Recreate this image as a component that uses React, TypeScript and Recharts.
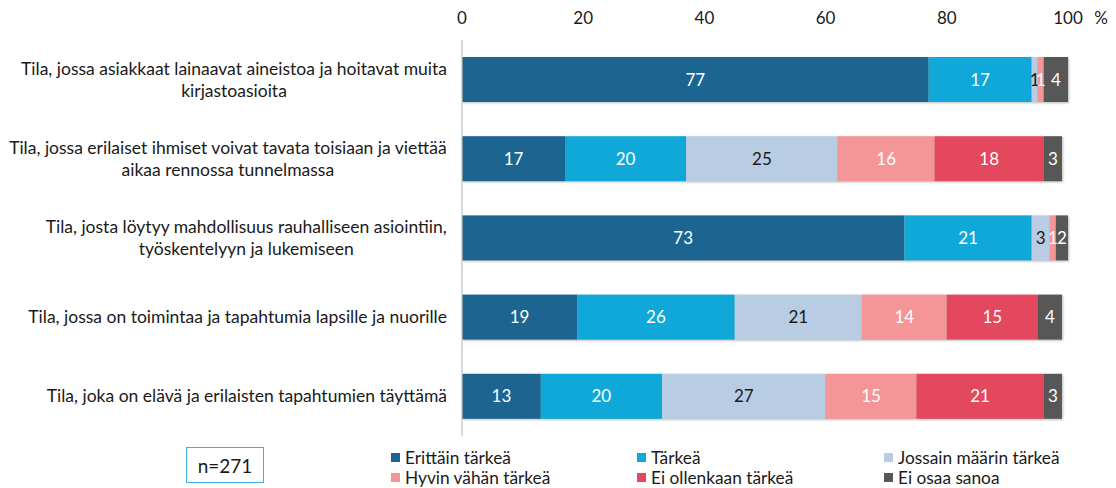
import React from "react";
import { BarChart, Bar, XAxis, YAxis, LabelList } from "recharts";

const categoryLines: string[][] = [
  ["Tila, jossa asiakkaat lainaavat aineistoa ja hoitavat muita", "kirjastoasioita"],
  ["Tila, jossa erilaiset ihmiset voivat tavata toisiaan ja viettää", "aikaa rennossa tunnelmassa"],
  ["Tila, josta löytyy mahdollisuus rauhalliseen asiointiin,", "työskentelyyn ja lukemiseen"],
  ["Tila, jossa on toimintaa ja tapahtumia lapsille ja nuorille"],
  ["Tila, joka on elävä ja erilaisten tapahtumien täyttämä"],
];

const erittainTarkea = [77, 17, 73, 19, 13];
const tarkea = [17, 20, 21, 26, 20];
const jossainMaarin = [1, 25, 3, 21, 27];
const hyvinVahan = [1, 16, 1, 14, 15];
const eiOllenkaan = [0, 18, 0, 15, 21];
const eiOsaa = [4, 3, 2, 4, 3];

const xTicks = [0, 20, 40, 60, 80, 100];

const seriesNames = [
  "Erittäin tärkeä",
  "Tärkeä",
  "Jossain määrin tärkeä",
  "Hyvin vähän tärkeä",
  "Ei ollenkaan tärkeä",
  "Ei osaa sanoa",
];
const seriesKeys = ["s0", "s1", "s2", "s3", "s4", "s5"];
const seriesColors = ["#1D6591", "#0FA8D8", "#B8CCE4", "#F49698", "#E4485E", "#575757"];
const labelColors = ["#ffffff", "#ffffff", "#1a1a1a", "#ffffff", "#ffffff", "#ffffff"];
const seriesValues = [erittainTarkea, tarkea, jossainMaarin, hyvinVahan, eiOllenkaan, eiOsaa];

const data = categoryLines.map((lines, i) => {
  const row: any = { name: lines.join(" "), idx: i };
  seriesKeys.forEach((k, j) => {
    row[k] = seriesValues[j][i];
  });
  return row;
});

const FONT = "Lato, 'Open Sans', sans-serif";
const CAT_FONT_SIZE = 17.5;

let measureCtx: CanvasRenderingContext2D | null = null;
function measure(text: string, font: string): number {
  if (typeof document === "undefined") return text.length * 7;
  if (!measureCtx) {
    const c = document.createElement("canvas");
    measureCtx = c.getContext("2d");
  }
  if (!measureCtx) return text.length * 7;
  measureCtx.font = font;
  return measureCtx.measureText(text).width;
}

const CategoryTick = (props: any) => {
  const { x, y, payload } = props;
  const lines = categoryLines[payload.index] || [String(payload.value)];
  const widths = lines.map((l) => measure(l, `${CAT_FONT_SIZE}px Lato`));
  const maxW = Math.max(...widths);
  const cx = x - maxW / 2;
  const lh = 22;
  return (
    <g>
      {lines.map((l, i) => (
        <text
          key={i}
          x={cx}
          y={y + (i - (lines.length - 1) / 2) * lh + 6}
          textAnchor="middle"
          fontFamily={FONT}
          fontSize={CAT_FONT_SIZE}
          fill="#1a1a1a"
        >
          {l}
        </text>
      ))}
    </g>
  );
};

const TopTick = (props: any) => {
  const { x, payload } = props;
  return (
    <g>
      <text x={x} y={24} textAnchor="middle" fontFamily={FONT} fontSize={17} fill="#1a1a1a">
        {payload.value}
      </text>
      {payload.value === 100 ? (
        <text x={x + 33} y={24} textAnchor="middle" fontFamily={FONT} fontSize={17} fill="#1a1a1a">
          %
        </text>
      ) : null}
    </g>
  );
};

const ShadowRect = (props: any) => {
  const { x, y, width, height, fill } = props;
  if (!width || width <= 0) return null;
  return (
    <rect
      x={x}
      y={y}
      width={width}
      height={height}
      fill={fill}
      style={{ filter: "drop-shadow(1.5px 1.5px 1px rgba(0,0,0,0.28))" }}
    />
  );
};

const makeLabel = (color: string) => (props: any) => {
  const { x, y, width, height, value } = props;
  if (!value) return null;
  return (
    <text
      x={x + width / 2}
      y={y + height / 2 + 6}
      textAnchor="middle"
      fontFamily={FONT}
      fontSize={17}
      fill={color}
    >
      {value}
    </text>
  );
};

export default function App() {
  return (
    <div style={{ position: "absolute", left: 0, top: 0, width: 1116, height: 488, background: "#fff" }}>
      <BarChart
        width={1116}
        height={488}
        data={data}
        layout="vertical"
        margin={{ top: 10, right: 48, bottom: 52, left: 0 }}
        barSize={45}
      >
        <XAxis
          type="number"
          orientation="top"
          domain={[0, 100]}
          ticks={xTicks}
          height={30}
          axisLine={false}
          tickLine={false}
          tick={<TopTick />}
          interval={0}
        />
        <YAxis
          type="category"
          dataKey="name"
          width={462}
          axisLine={{ stroke: "#c0c0c0", strokeWidth: 1.2 }}
          tickLine={false}
          tickSize={0}
          tickMargin={15}
          tick={<CategoryTick />}
          interval={0}
        />
        {seriesKeys.map((k, j) => (
          <Bar
            key={k}
            dataKey={k}
            name={seriesNames[j]}
            stackId="a"
            fill={seriesColors[j]}
            isAnimationActive={false}
            shape={<ShadowRect />}
          >
            <LabelList dataKey={k} content={makeLabel(labelColors[j])} />
          </Bar>
        ))}
      </BarChart>

      <div
        style={{
          position: "absolute",
          left: 186,
          top: 447,
          width: 76,
          height: 34,
          border: "1.5px solid #3DB0E0",
          display: "flex",
          alignItems: "center",
          justifyContent: "center",
          fontFamily: FONT,
          fontSize: 19,
          color: "#1a1a1a",
        }}
      >
        n=271
      </div>

      {seriesNames.map((n, j) => {
        const col = j % 3;
        const row = Math.floor(j / 3);
        const left = [391, 637, 884][col];
        const top = [447, 467][row];
        return (
          <div
            key={n}
            style={{
              position: "absolute",
              left,
              top,
              height: 21,
              lineHeight: "21px",
              display: "flex",
              alignItems: "center",
              fontFamily: FONT,
              fontSize: 17.3,
              color: "#1a1a1a",
              whiteSpace: "nowrap",
            }}
          >
            <span
              style={{
                display: "inline-block",
                width: 9,
                height: 9,
                background: seriesColors[j],
                marginRight: 5,
              }}
            />
            {n}
          </div>
        );
      })}
    </div>
  );
}
